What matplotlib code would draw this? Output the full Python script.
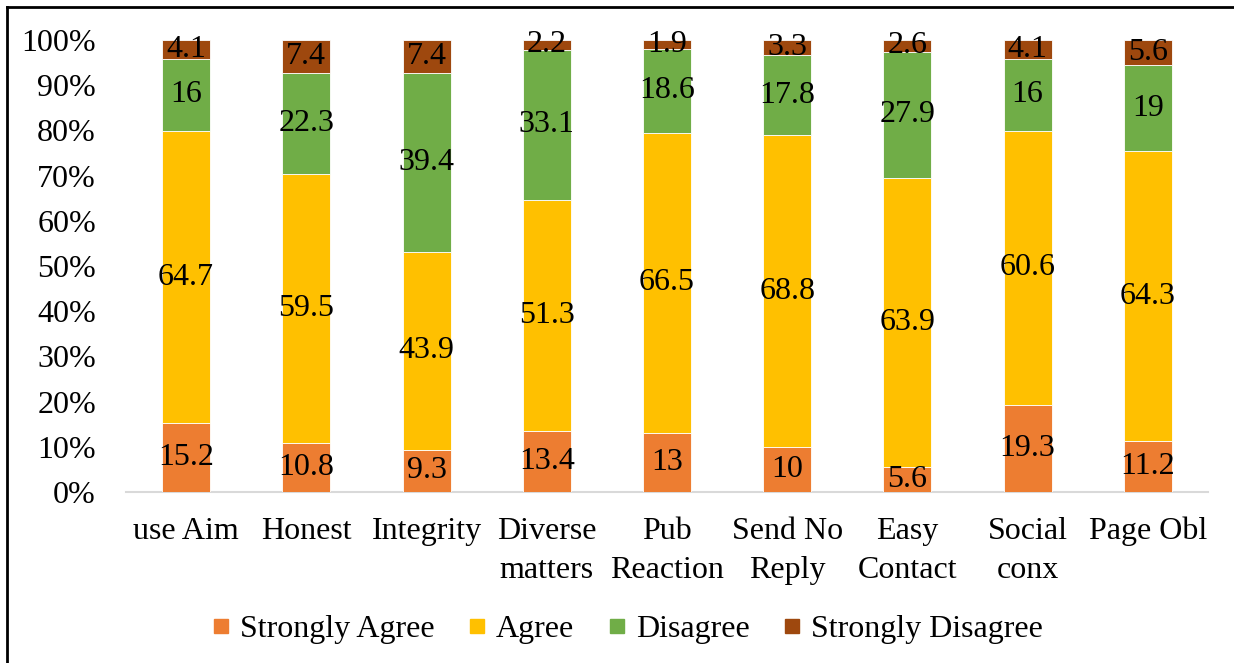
import matplotlib
matplotlib.use("Agg")
import matplotlib.pyplot as plt
import numpy as np
from matplotlib.lines import Line2D

categories = ["use Aim", "Honest", "Integrity", "Diverse\nmatters", "Pub\nReaction",
              "Send No\nReply", "Easy\nContact", "Social\nconx", "Page Obl"]
series_names = ["Strongly Agree", "Agree", "Disagree", "Strongly Disagree"]
strongly_agree = [15.2, 10.8, 9.3, 13.4, 13, 10, 5.6, 19.3, 11.2]
agree = [64.7, 59.5, 43.9, 51.3, 66.5, 68.8, 63.9, 60.6, 64.3]
disagree = [16, 22.3, 39.4, 33.1, 18.6, 17.8, 27.9, 16, 19]
strongly_disagree = [4.1, 7.4, 7.4, 2.2, 1.9, 3.3, 2.6, 4.1, 5.6]
colors = ["#ED7D31", "#FFC000", "#70AD47", "#9E480E"]
y_ticks = [0, 10, 20, 30, 40, 50, 60, 70, 80, 90, 100]

plt.rcParams['font.family'] = ['Liberation Serif', 'DejaVu Serif']
FS = 23

fig = plt.figure(figsize=(12.34, 6.63), dpi=100)
ax = fig.add_axes([126/1234, 1-492/663, (1208-126)/1234, (492-40)/663])

data = np.array([strongly_agree, agree, disagree, strongly_disagree], dtype=float)
totals = data.sum(axis=0)
pct = data / totals * 100
x = np.arange(len(categories))
bottom = np.zeros(len(categories))
for i, name in enumerate(series_names):
    ax.bar(x, pct[i], 0.4, bottom=bottom, color=colors[i],
           edgecolor="white", linewidth=0.6, label=name, zorder=2)
    for j in range(len(categories)):
        v = data[i, j]
        ax.text(x[j], bottom[j] + pct[i, j] / 2, "%g" % v, ha="center", va="center",
                fontsize=FS, color="black", zorder=3)
    bottom += pct[i]

ax.set_xlim(-0.5, len(categories) - 0.5)
ax.set_ylim(0, 100)
ax.set_yticks(y_ticks)
ax.set_yticklabels(["%d%%" % t for t in y_ticks], fontsize=FS)
ax.set_xticks(x)
ax.set_xticklabels(categories, fontsize=FS, linespacing=1.45, va="top")
ax.tick_params(axis="both", length=0)
ax.tick_params(axis="y", pad=21.6)
ax.tick_params(axis="x", pad=18)
for s in ["top", "right", "left"]:
    ax.spines[s].set_visible(False)
ax.spines["bottom"].set_color("#D9D9D9")
ax.spines["bottom"].set_linewidth(1.5)
ax.spines["bottom"].set_zorder(1)

leg_handles = [Line2D([0], [0], marker="s", color="none", markerfacecolor=c,
                      markeredgecolor=c, markersize=9.5) for c in colors]
fig.legend(leg_handles, series_names, loc="center", bbox_to_anchor=(627/1234, 1-629/663),
           ncol=4, frameon=False, fontsize=FS, handlelength=0.6, handletextpad=0.3,
           columnspacing=1.02)

# outer frame (left and top visible)
fig.add_artist(Line2D([6.5/1234, 6.5/1234], [0, 1-6.5/663], transform=fig.transFigure,
                      color="black", linewidth=2))
fig.add_artist(Line2D([6.5/1234, 1], [1-6.5/663, 1-6.5/663], transform=fig.transFigure,
                      color="black", linewidth=2))

fig.savefig("out.png", dpi=100, facecolor="white")
